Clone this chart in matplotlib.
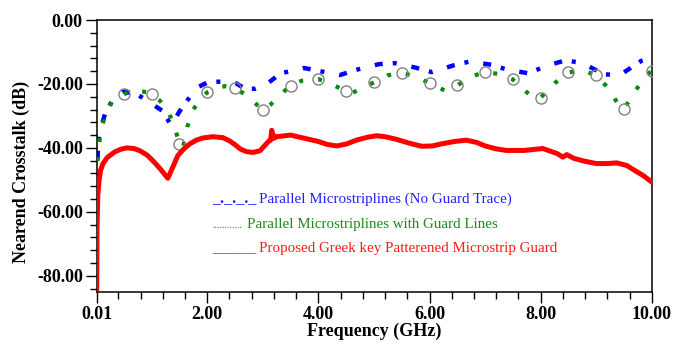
import numpy as np
import matplotlib
matplotlib.use('Agg')
import matplotlib.pyplot as plt
from matplotlib.ticker import FixedLocator, FixedFormatter

plt.rcParams['font.family'] = ['Liberation Serif', 'DejaVu Serif']
plt.rcParams['lines.scale_dashes'] = False

# Frequency (GHz) / Nearend crosstalk (dB)
red_f = [0.01, 0.015, 0.03, 0.05, 0.08, 0.12, 0.2, 0.34, 0.45, 0.55, 0.68, 0.79, 0.92, 1.02, 1.15, 1.29,
         1.38, 1.47, 1.58, 1.69, 1.8, 1.92, 2.1, 2.28, 2.4, 2.5, 2.6, 2.71, 2.83, 2.95, 3.1, 3.14, 3.16,
         3.2, 3.25, 3.5, 3.75, 4.0, 4.15, 4.33, 4.5, 4.7, 4.9, 5.05, 5.2, 5.4, 5.65, 5.86, 6.05, 6.2, 6.45,
         6.66, 6.85, 7.0, 7.2, 7.38, 7.7, 8.04, 8.3, 8.4, 8.47, 8.6, 8.8, 9.0, 9.2, 9.37, 9.55, 9.65,
         9.85, 10.0]
red_db = [-85, -65, -55, -50.5, -47, -45, -43, -41.2, -40.4, -40, -40.2, -40.9, -42.3, -44, -46.5, -49.5,
          -46, -42.4, -40.3, -38.7, -37.6, -36.9, -36.5, -36.8, -37.8, -39, -40.4, -41.2, -41.4, -40.9, -38, -37.6, -34.5,
          -37, -36.5, -36, -37, -38, -38.9, -39.4, -38.8, -37.5, -36.6, -36.2, -36.5, -37.3, -38.6, -39.5, -39.4, -38.8, -38,
          -37.6, -38.3, -39.4, -40.3, -40.8, -40.8, -40.2, -41.8, -42.9, -42.1, -43.3, -44.2, -44.9, -44.9, -44.7, -45.5, -46.6,
          -48.7, -50.7]

blue_f = [0.01, 0.03, 0.06, 0.16, 0.3, 0.48, 0.73, 0.88, 1.06, 1.2, 1.35, 1.5, 1.71, 1.83, 2.01,
          2.2, 2.39, 2.52, 2.68, 2.86, 3.05, 3.32, 3.74, 4.03, 4.39, 4.7, 5.09, 5.38, 5.75, 6.04,
          6.43, 6.72, 7.12, 7.39, 7.79, 8.07, 8.45, 8.76, 9.14, 9.43, 9.81, 10.0]
blue_db = [-55, -41, -35, -29.4, -24.8, -22.3, -23.2, -24.8, -26.9, -28.5, -33, -28.6, -23.5, -21, -19.5,
           -19.3, -19.4, -19.8, -21.5, -21.5, -20.3, -16.7, -15, -16, -17.2, -15.5, -13.8, -13.5, -14.9, -16.3,
           -14.2, -13, -14, -15.5, -16.7, -14.5, -12.6, -13.5, -17, -17.2, -12.8, -12]

green_f = [0.01, 0.03, 0.07, 0.14, 0.3, 0.5, 0.66, 0.85, 1.0, 1.15, 1.29, 1.42, 1.5, 1.56, 1.6,
           1.64, 1.74, 1.87, 2.0, 2.18, 2.32, 2.5, 2.68, 2.85, 3.0, 3.15, 3.27, 3.5, 3.7, 3.9,
           4.0, 4.24, 4.5, 4.6, 4.8, 5.0, 5.25, 5.5, 5.61, 5.8, 6.0, 6.27, 6.5, 6.62, 6.8,
           7.0, 7.3, 7.5, 7.62, 7.8, 7.93, 8.0, 8.25, 8.5, 8.61, 8.8, 9.0, 9.24, 9.42, 9.5,
           9.64, 9.87, 10.0]
green_db = [-56, -42, -36.5, -31, -25, -23.2, -22, -22.4, -23, -25.3, -28.2, -34, -38.7, -40, -37,
            -33.5, -28.2, -25, -22.6, -21.2, -20.7, -21.4, -23.2, -25.8, -28.2, -26.3, -24.1, -20.5, -19, -18.6,
            -18.5, -20.1, -22.3, -22.9, -21.2, -19.5, -17.3, -16.5, -17, -18, -19.8, -22, -20.4, -19.2, -17.4,
            -16.3, -17, -18.6, -20.7, -23.3, -24.8, -24.3, -19.8, -16.4, -16.1, -16, -17.3, -21.7, -27.2, -27.9,
            -23.8, -18, -15.8]

# circles sit on the green trace every 0.5 GHz
circle_f = [0.5, 1.0, 1.5, 2.0, 2.5, 3.0, 3.5, 4.0, 4.5, 5.0, 5.5, 6.0, 6.5, 7.0, 7.5, 8.0, 8.5, 9.0, 9.5, 10.0]

x_major = [0.01, 2.0, 4.0, 6.0, 8.0, 10.0]
x_major_labels = ['0.01', '2.00', '4.00', '6.00', '8.00', '10.00']
y_major = [0, -20, -40, -60, -80]
y_major_labels = ['0.00', '-20.00', '-40.00', '-60.00', '-80.00']

legend_labels = ['Parallel Microstriplines (No Guard Trace)',
                 'Parallel Microstriplines with Guard Lines',
                 'Proposed Greek key Patterened Microstrip Guard']

fig = plt.figure(figsize=(6.73, 3.44), dpi=100)
ax = fig.add_axes([0.1437, 0.152, 0.8247, 0.7898])

ax.plot(blue_f, blue_db, color='#0000ff', lw=3.2, dashes=(5.8, 7.2, 2.9, 10.8),
        dash_capstyle='butt', zorder=2)
marks = [i for i, f in enumerate(green_f) if f in circle_f]
ax.plot(green_f, green_db, color='#0a8a0a', lw=3.0, dashes=(2.9, 10.8), dash_capstyle='butt',
        zorder=3)
ax.plot(np.array(green_f)[marks], np.array(green_db)[marks], ls='none', marker='o', ms=8,
        mfc='none', mec='#808080', mew=1.0, zorder=4)
ax.plot(red_f, red_db, color='#ff0000', lw=3.6, zorder=5, solid_joinstyle='round')

ax.set_xlim(0.01, 10)
ax.set_ylim(-85, 0)

ax.xaxis.set_major_locator(FixedLocator(x_major))
ax.xaxis.set_major_formatter(FixedFormatter(x_major_labels))
ax.xaxis.set_minor_locator(FixedLocator([0.4 * k for k in range(1, 25) if k % 5 != 0]))
ax.yaxis.set_major_locator(FixedLocator(y_major))
ax.yaxis.set_major_formatter(FixedFormatter(y_major_labels))
ax.yaxis.set_minor_locator(FixedLocator([-4 * k for k in range(1, 22) if k % 5 != 0]))

ax.tick_params(which='major', direction='out', length=8, width=1.0, pad=2)
ax.tick_params(which='minor', direction='out', length=5, width=1.0)
for lab in ax.get_xticklabels() + ax.get_yticklabels():
    lab.set_fontsize(13)
    lab.set_fontweight('bold')
for s in ax.spines.values():
    s.set_linewidth(1.1)

fig.text(21 / 673, 1 - 172 / 344, 'Nearend Crosstalk (dB)', rotation=90, ha='center', va='center',
         fontsize=13, fontweight='bold')
fig.text(0.5557, 1 - 331 / 344, 'Frequency (GHz)', ha='center', va='center',
         fontsize=13, fontweight='bold')

# legend drawn as plain text, like the original
ax.text(0.208, 0.326, '_._._._', color='#2020ff', fontsize=11.5, fontweight='bold',
        transform=ax.transAxes, va='baseline')
ax.text(0.293, 0.326, legend_labels[0], color='#2020ff', fontsize=10.8, transform=ax.transAxes, va='baseline')
ax.text(0.208, 0.234, '............', color='#1a8a1a', fontsize=7, transform=ax.transAxes, va='baseline')
ax.text(0.271, 0.234, legend_labels[1], color='#1a8a1a', fontsize=10.8, transform=ax.transAxes, va='baseline')
ax.text(0.208, 0.146, '______', color='#ff1a1a', fontsize=10.5, transform=ax.transAxes, va='baseline')
ax.text(0.292, 0.146, legend_labels[2], color='#ff1a1a', fontsize=10.8, transform=ax.transAxes, va='baseline')

fig.savefig('out.png', dpi=100)
